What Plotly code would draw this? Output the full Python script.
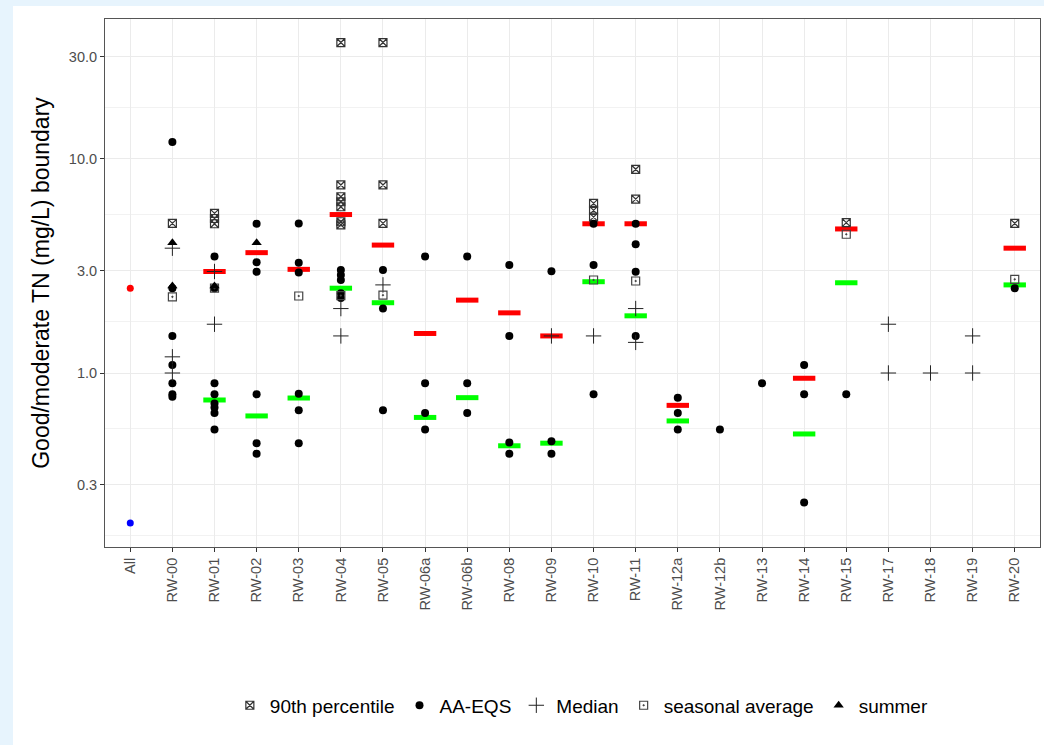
import numpy as np
import plotly.graph_objects as go

categories = ["All", "RW-00", "RW-01", "RW-02", "RW-03", "RW-04", "RW-05", "RW-06a", "RW-06b",
              "RW-08", "RW-09", "RW-10", "RW-11", "RW-12a", "RW-12b", "RW-13", "RW-14", "RW-15",
              "RW-17", "RW-18", "RW-19", "RW-20"]

# 90th percentile
p90_cat = ["RW-00", "RW-01", "RW-01", "RW-01", "RW-04", "RW-04", "RW-04", "RW-04", "RW-04", "RW-04", "RW-04",
           "RW-05", "RW-05", "RW-05", "RW-10", "RW-10", "RW-10", "RW-11", "RW-11", "RW-15", "RW-20"]
p90_val = [5.0, 5.57, 5.27, 4.98, 35.0, 7.56, 6.66, 6.31, 5.98, 5.09, 4.92,
           35.0, 7.56, 5.0, 6.2, 5.75, 5.35, 8.95, 6.49, 5.04, 5.0]

# AA-EQS
aa_cat = ["RW-00"] * 7 + ["RW-01"] * 8 + ["RW-02"] * 6 + ["RW-03"] * 6 + ["RW-04"] * 5 + ["RW-05"] * 3 + \
         ["RW-06a"] * 4 + ["RW-06b"] * 3 + ["RW-08"] * 4 + ["RW-09"] * 3 + ["RW-10"] * 3 + ["RW-11"] * 4 + \
         ["RW-12a"] * 3 + ["RW-12b", "RW-13"] + ["RW-14"] * 3 + ["RW-15", "RW-20"]
aa_val = [12.0, 2.49, 1.49, 1.09, 0.895, 0.795, 0.775,
          3.5, 2.49, 0.895, 0.795, 0.72, 0.69, 0.65, 0.545,
          4.98, 3.29, 2.97, 0.795, 0.47, 0.42,
          5.0, 3.27, 2.95, 0.80, 0.67, 0.47,
          3.03, 2.87, 2.72, 2.36, 2.24,
          3.03, 2.0, 0.67,
          3.5, 0.895, 0.65, 0.545,
          3.5, 0.895, 0.65,
          3.2, 1.49, 0.473, 0.42,
          2.99, 0.48, 0.42,
          4.98, 3.2, 0.795,
          4.98, 4.0, 2.97, 1.49,
          0.767, 0.65, 0.545,
          0.545, 0.895,
          1.09, 0.795, 0.248,
          0.795, 2.49]

# Median
med_cat = ["RW-00", "RW-00", "RW-00", "RW-01", "RW-01", "RW-04", "RW-04", "RW-05", "RW-09", "RW-10",
           "RW-11", "RW-11", "RW-17", "RW-17", "RW-18", "RW-19", "RW-19"]
med_val = [3.83, 1.19, 1.0, 2.98, 1.69, 2.0, 1.49, 2.58, 1.49, 1.49,
           2.0, 1.39, 1.69, 1.0, 1.0, 1.49, 1.0]

# seasonal average
sea_cat = ["RW-00", "RW-01", "RW-03", "RW-04", "RW-05", "RW-10", "RW-11", "RW-15", "RW-20"]
sea_val = [2.27, 2.49, 2.29, 2.3, 2.31, 2.72, 2.69, 4.45, 2.74]

# summer
sum_cat = ["RW-00", "RW-00", "RW-01", "RW-02"]
sum_val = [4.06, 2.55, 2.55, 4.06]

# boundaries (red = upper, green = lower)
red_cat = ["RW-01", "RW-02", "RW-03", "RW-04", "RW-05", "RW-06a", "RW-06b", "RW-08", "RW-09", "RW-10",
           "RW-11", "RW-12a", "RW-14", "RW-15", "RW-20"]
red_val = [2.98, 3.65, 3.05, 5.5, 3.96, 1.53, 2.19, 1.91, 1.49, 4.98, 4.98, 0.706, 0.945, 4.71, 3.83]
green_cat = red_cat
green_val = [0.748, 0.63, 0.764, 2.49, 2.13, 0.62, 0.767, 0.457, 0.47, 2.67, 1.85, 0.597, 0.519, 2.64, 2.58]

all_red_val = [2.49]
all_blue_val = [0.199]

tick_vals = [0.3, 1.0, 3.0, 10.0, 30.0]
tick_text = ["0.3", "1.0", "3.0", "10.0", "30.0"]
minor_vals = [0.1732, 0.5477, 1.732, 5.477, 17.32]

FONT = "Liberation Sans, Arial, sans-serif"
PAGE_BG = "#e7f4fd"

fig = go.Figure()

# boundary bars
fig.add_trace(go.Scatter(x=red_cat, y=red_val, mode="markers", showlegend=False, hoverinfo="skip",
                         marker=dict(symbol="line-ew", size=16, color="#ff0000",
                                     line=dict(color="#ff0000", width=5))))
fig.add_trace(go.Scatter(x=green_cat, y=green_val, mode="markers", showlegend=False, hoverinfo="skip",
                         marker=dict(symbol="line-ew", size=16, color="#00ff00",
                                     line=dict(color="#00ff00", width=5))))
fig.add_trace(go.Scatter(x=["All"], y=all_red_val, mode="markers", showlegend=False,
                         marker=dict(symbol="circle", size=7, color="#ff0000")))
fig.add_trace(go.Scatter(x=["All"], y=all_blue_val, mode="markers", showlegend=False,
                         marker=dict(symbol="circle", size=7, color="#0000ff")))

# legend series
fig.add_trace(go.Scatter(x=p90_cat, y=p90_val, mode="markers", name="90th percentile",
                         marker=dict(symbol="square-x-open", size=8, color="#333333",
                                     line=dict(width=1.2, color="#333333"))))
fig.add_trace(go.Scatter(x=aa_cat, y=aa_val, mode="markers", name="AA-EQS",
                         marker=dict(symbol="circle", size=8, color="black")))
fig.add_trace(go.Scatter(x=med_cat, y=med_val, mode="markers", name="Median",
                         marker=dict(symbol="cross-thin", size=11, color="black",
                                     line=dict(width=1, color="#222222"))))
fig.add_trace(go.Scatter(x=sea_cat, y=sea_val, mode="markers", name="seasonal average",
                         marker=dict(symbol="square-open-dot", size=8, color="#444444",
                                     line=dict(width=1.2, color="#444444"))))
fig.add_trace(go.Scatter(x=sum_cat, y=sum_val, mode="markers", name="summer",
                         marker=dict(symbol="triangle-up", size=9, color="black")))

L, R, T, B = 105, 4, 19, 198
W, H = 1044, 745
pw, ph = W - L - R, H - T - B
bottom_px = H - B

fig.add_shape(type="rect", xref="paper", yref="paper", layer="below",
              x0=(13 - L) / pw, x1=(W + 5 - L) / pw,
              y0=(bottom_px - (H + 5)) / ph, y1=(bottom_px - 6) / ph,
              fillcolor="white", line=dict(width=0))

fig.update_layout(
    width=W, height=H,
    margin=dict(l=L, r=R, t=T, b=B, autoexpand=False),
    paper_bgcolor=PAGE_BG,
    plot_bgcolor="white",
    font=dict(family=FONT, color="black"),
    legend=dict(orientation="h", x=0.51, xanchor="center", y=-0.30, yanchor="middle",
                font=dict(size=19, color="black"), bgcolor="rgba(0,0,0,0)"),
    xaxis=dict(type="category", categoryorder="array", categoryarray=categories,
               range=[-0.6, len(categories) - 0.4], automargin=False,
               tickangle=-90, tickfont=dict(size=14.5, color="#4d4d4d"),
               showgrid=True, gridcolor="#ebebeb", gridwidth=1.2,
               ticks="outside", ticklen=4, tickcolor="#333333",
               showline=True, linecolor="#555555", linewidth=1, mirror=True, zeroline=False),
    yaxis=dict(type="log", range=[-0.813, 1.654], automargin=False,
               tickvals=tick_vals, ticktext=tick_text,
               tickfont=dict(size=14.5, color="#4d4d4d"),
               showgrid=True, gridcolor="#ebebeb", gridwidth=1.2,
               minor=dict(tickvals=minor_vals, showgrid=True, gridcolor="#f2f2f2", gridwidth=0.8, ticks=""),
               ticks="outside", ticklen=4, tickcolor="#333333",
               showline=True, linecolor="#555555", linewidth=1, mirror=True, zeroline=False,
               title=dict(text="Good/moderate TN (mg/L) boundary", font=dict(size=23, color="black"), standoff=12)),
)

fig.write_html("out.html", config={"displayModeBar": False},
               post_script="document.body.style.margin='0';document.body.style.background='%s';" % PAGE_BG)
